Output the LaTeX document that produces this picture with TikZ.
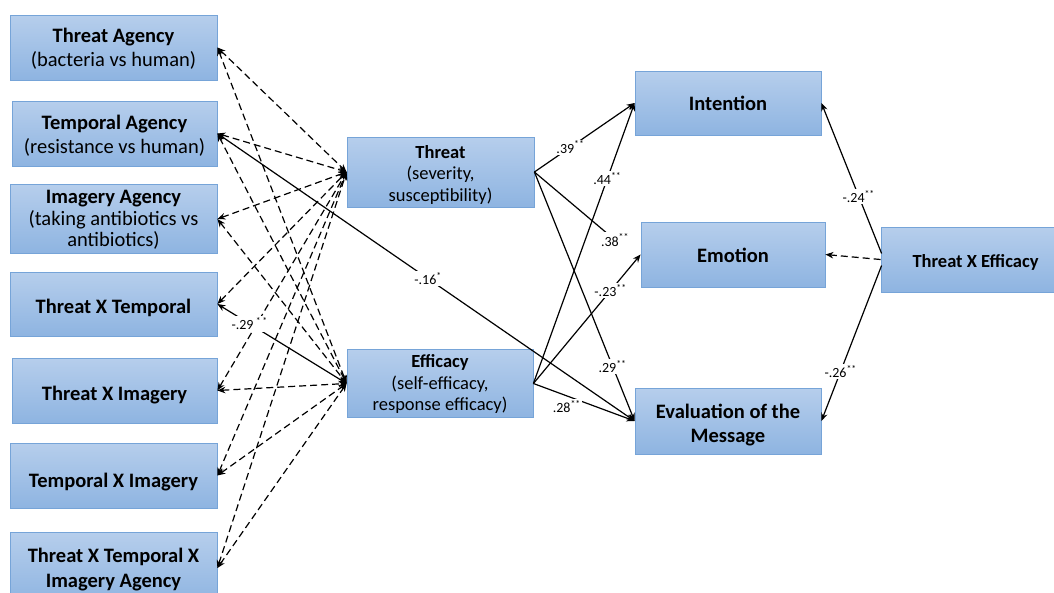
\documentclass[tikz,border=0pt]{standalone}
\usepackage{fontspec}
\setmainfont{Carlito}
\usetikzlibrary{arrows.meta,calc}
\definecolor{boxtop}{RGB}{182,206,236}
\definecolor{boxbot}{RGB}{142,180,225}
\definecolor{boxedge}{RGB}{118,164,216}
\tikzset{
  box/.style={rectangle, top color=boxtop, bottom color=boxbot, draw=boxedge,
    line width=0.8pt, inner sep=2pt},
  bigtxt/.style={font=\fontsize{20.5}{23.5}\selectfont},
  midtxt/.style={font=\fontsize{18.5}{21.5}\selectfont},
  conn/.style={line width=1.2pt, -{Stealth[length=8pt,width=6.5pt]}},
  dconn/.style={line width=1.2pt, dash pattern=on 7pt off 4pt,
    {Stealth[length=8pt,width=6.5pt]}-{Stealth[length=8pt,width=6.5pt]}},
  sconn/.style={line width=1.2pt,
    {Stealth[length=8pt,width=6.5pt]}-{Stealth[length=8pt,width=6.5pt]}},
  lbl/.style={fill=white, inner sep=1.5pt, font=\fontsize{14}{16}\selectfont}
}
\newcommand{\st}[1]{\textsuperscript{#1}}
\newcommand{\dn}[2]{\raisebox{-#1pt}[\height][\depth]{\begin{tabular}{@{}c@{}}#2\end{tabular}}}
\begin{document}
\begin{tikzpicture}[x=1pt,y=-1pt]
\useasboundingbox (0,0) rectangle (1054,592);
\fill[white] (0,0) rectangle (1054,592);
% left column
\node[box,bigtxt,minimum width=207pt,minimum height=65pt] (la) at (113.5,47.5) {\dn{2.5}{\textbf{Threat Agency}\\(bacteria vs human)}};
\node[box,bigtxt,minimum width=205pt,minimum height=65pt] (lb) at (114.5,133.5) {\dn{3.5}{\textbf{Temporal Agency}\\(resistance vs human)}};
\node[box,minimum width=207pt,minimum height=64pt,font=\fontsize{20.5}{21.5}\selectfont] (lc) at (113.5,219) {\dn{2}{\textbf{Imagery Agency}\\(taking antibiotics vs\\antibiotics)}};
\node[box,bigtxt,minimum width=207pt,minimum height=64pt] (ld) at (113.5,304) {\dn{4.5}{\textbf{Threat X Temporal}}};
\node[box,bigtxt,minimum width=205pt,minimum height=65pt] (le) at (114.5,390.5) {\dn{5.5}{\textbf{Threat X Imagery}}};
\node[box,bigtxt,minimum width=207pt,minimum height=65pt] (lf) at (113.5,475.5) {\dn{7}{\textbf{Temporal X Imagery}}};
\node[box,minimum width=207pt,minimum height=72pt,font=\fontsize{20.5}{25}\selectfont] (lg) at (113.5,568) {\dn{1.5}{\textbf{Threat X Temporal X}\\\textbf{Imagery Agency}}};
% middle column
\node[box,midtxt,minimum width=187pt,minimum height=70pt] (threat) at (440.5,172) {\dn{3.5}{\textbf{Threat}\\(severity,\\susceptibility)}};
\node[box,midtxt,minimum width=186pt,minimum height=65pt] (eff) at (440,383.5) {\dn{1.5}{\textbf{Efficacy}\\(self-efficacy,\\response efficacy)}};
% right column
\node[box,bigtxt,minimum width=186pt,minimum height=64pt] (intent) at (728,103) {\dn{2.5}{\textbf{Intention}}};
\node[box,bigtxt,minimum width=184pt,minimum height=65pt] (emo) at (733,254.5) {\dn{3}{\textbf{Emotion}}};
\node[box,minimum width=186pt,minimum height=66pt,font=\fontsize{20.5}{24}\selectfont] (evalm) at (728,421) {\dn{5}{\textbf{Evaluation of the}\\\textbf{Message}}};
\node[box,midtxt,minimum width=189pt,minimum height=65pt] (txe) at (975.5,259.5) {\dn{4}{\textbf{Threat X Efficacy}}};
\coordinate (txeu) at ($(txe.west)+(1,-6)$);
\coordinate (txed) at ($(txe.west)+(1,6)$);
% dashed connections, left to middle
\foreach \n in {la,lb,lc,ld,le,lf,lg}{
  \draw[dconn] (\n.east) -- (threat.west);
}
\foreach \n in {la,lb,lc,le,lf,lg}{
  \draw[dconn] (\n.east) -- (eff.west);
}
% solid connections from left
\draw[sconn] (ld.east) -- node[lbl,pos=0.25]{-.29\,\st{*\,*}} (eff.west);
\draw[sconn] (lb.east) -- node[lbl,pos=0.505]{-.16\st{*}} (evalm.west);
% middle to right
\coordinate (t38) at (615,240);
\draw[conn] (threat.east) -- node[lbl,pos=0.36]{.39\st{**}} (intent.west);
\draw[line width=1.2pt] (threat.east) -- (t38) node[lbl]{.38\st{**}};
\draw[conn] (threat.east) -- node[lbl,pos=0.78]{.29\st{**}} (evalm.west);
\draw[conn] (eff.east) -- node[lbl,pos=0.73]{.44\st{**}} (intent.west);
\draw[conn] (eff.east) -- node[lbl,pos=0.72]{-.23\st{**}} (emo.west);
\draw[conn] (eff.east) -- node[lbl,pos=0.33,yshift=-11pt]{.28\st{**}} (evalm.west);
% Threat X Efficacy
\draw[conn] (txeu) -- node[lbl,pos=0.38]{-.24\st{**}} (intent.east);
\draw[conn,dash pattern=on 7pt off 4pt] (txe.west) -- (emo.east);
\draw[conn] (txed) -- node[lbl,pos=0.68]{-.26\st{**}} (evalm.east);
\end{tikzpicture}
\end{document}
